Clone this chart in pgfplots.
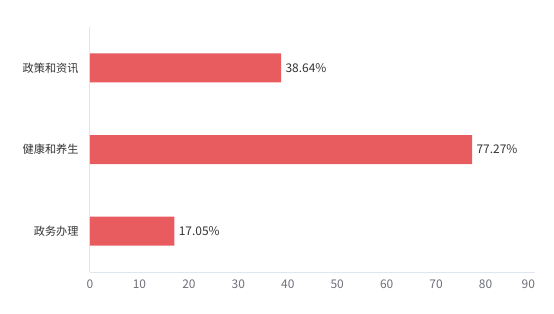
\documentclass[border=0pt]{standalone}
\usepackage{pgfplots}
\pgfplotsset{compat=1.18}
\usepackage{fontspec}
\setmainfont{Noto Sans CJK SC}
\definecolor{barred}{HTML}{E85C5F}
\definecolor{axline}{HTML}{E0E6F1}
\definecolor{ticktxt}{HTML}{6E7079}
\definecolor{labtxt}{HTML}{333333}
\begin{document}
\begin{tikzpicture}
\begin{axis}[
  scale only axis,
  width=445bp, height=245bp,
  xbar,
  xmin=0, xmax=90,
  ymin=-0.5, ymax=2.5,
  xtick={0,10,...,90},
  xticklabels={0,10,20,30,40,50,60,70,80,\makebox[0pt][r]{90}},
  ytick={0,1,2},
  yticklabels={政务办理,健康和养生,政策和资讯},
  axis lines*=left,
  axis line style={axline, line width=1bp},
  major tick length=0pt,
  tick style={draw=none},
  /pgf/number format/assume math mode=true,
  xticklabel style={font=\fontsize{12}{14}\selectfont, text=ticktxt, yshift=-4bp},
  yticklabel style={font=\fontsize{11.2}{14}\selectfont, text=labtxt, xshift=-8bp},
  bar width=29bp,
  clip=false,
  nodes near coords={\pgfmathprintnumber[fixed,precision=2,fixed zerofill]{\pgfplotspointmeta}\%},
  nodes near coords style={font=\fontsize{12}{14}\selectfont, text=labtxt, anchor=west, xshift=1bp},
  point meta=x,
]
\addplot[fill=barred, draw=none] coordinates {(17.05,0) (77.27,1) (38.64,2)};
\end{axis}
\path (current axis.south west) ++(-90bp,-42bp) rectangle ++(554bp,314bp);
\end{tikzpicture}
\end{document}
